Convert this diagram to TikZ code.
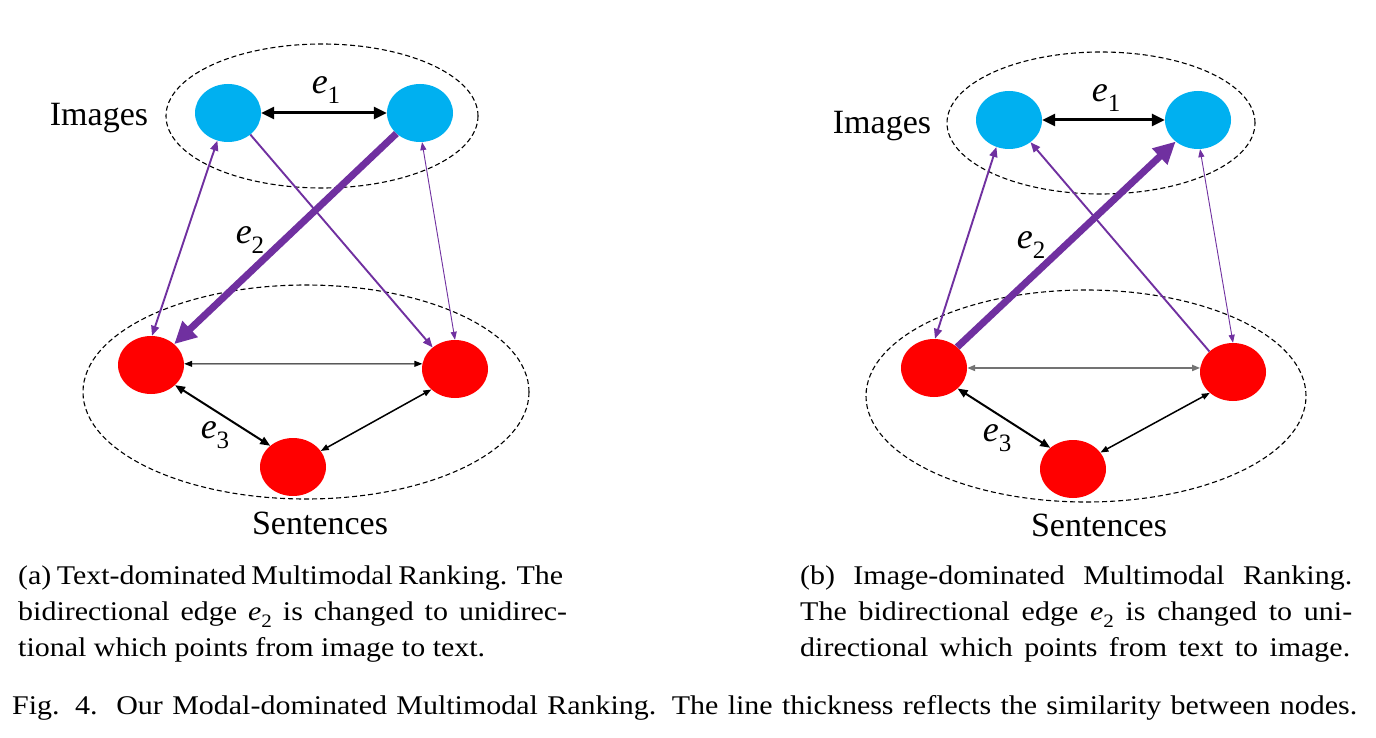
\documentclass[tikz,border=0pt]{standalone}
\usepackage{fontspec}
\setmainfont{Liberation Serif}
\newfontfamily\capfont[FakeStretch=1.11]{Liberation Serif}
\usetikzlibrary{arrows.meta,shapes.geometric}
\definecolor{nblue}{HTML}{00B0F0}
\definecolor{nred}{HTML}{FF0000}
\definecolor{npurple}{HTML}{7030A0}
\newcommand\esub[2]{\textit{e}\raisebox{-0.28em}{\fontsize{#2}{#2}\selectfont #1}}
\tikzset{
  bnode/.style={ellipse,fill=nblue,minimum width=66pt,minimum height=58pt,inner sep=0pt},
  rnode/.style={ellipse,fill=nred,minimum width=66pt,minimum height=58pt,inner sep=0pt},
  group/.style={ellipse,draw=black,line width=1.1pt,dash pattern=on 5pt off 3pt,inner sep=0pt},
  lbl/.style={font=\fontsize{34}{40}\selectfont,inner sep=0pt},
  elbl/.style={font=\fontsize{36}{40}\selectfont,inner sep=0pt},
  captxt/.style={font=\capfont\fontsize{27}{32}\selectfont,inner sep=0pt,anchor=base west},
  tipS/.tip={Triangle[length=8pt,width=6pt]},
  tipM/.tip={Triangle[length=10pt,width=8pt]},
  tipL/.tip={Triangle[length=13pt,width=12pt]},
  tipXL/.tip={Triangle[length=22pt,width=21pt]},
  pthin/.style={draw=npurple,line width=0.9pt,tipS-tipS},
  pmed/.style={draw=npurple,line width=1.9pt},
  pthick/.style={draw=npurple,line width=7pt,-tipXL},
  bthin/.style={draw=black,line width=1pt,tipS-tipS},
  bmed/.style={draw=black,line width=2pt,tipM-tipM},
  bmid/.style={draw=black,line width=1.5pt,tipS-tipS},
  bthick/.style={draw=black,line width=3pt,tipL-tipL},
}
\begin{document}
\begin{tikzpicture}[x=1pt,y=-1pt]
\useasboundingbox[fill=white] (0,0) rectangle (1376,738);

% ---------------- (a) ----------------
\node[group,minimum width=312pt,minimum height=144pt] (ga) at (322,116) {};
\node[group,minimum width=446pt,minimum height=214pt] (gsa) at (306,392) {};
\node[bnode] (ab1) at (228,113) {};
\node[bnode] (ab2) at (420,113) {};
\node[rnode] (ar1) at (151,365) {};
\node[rnode] (ar2) at (455,369) {};
\node[rnode] (ar3) at (293,467) {};
\node[lbl] (aimg) at (99,118) {Images};
\node[lbl] (asen) at (320,523) {Sentences};
\node[elbl] (ae1) at (326,90) {\esub{1}{25}};
\node[elbl] (ae2) at (250,240) {\esub{2}{25}};
\node[elbl] (ae3) at (215,435) {\esub{3}{25}};

\draw[bthick] (ab1.east) -- (ab2.west);
\draw[pmed,tipM-tipM] (ab1.-111) -- (ar1.88);
\draw[pmed,-tipM] (ab1.-44) -- (ar2.136);
\draw[pthick] (ab2.-139) -- (ar1.42);
\draw[pthin] (ab2.-86) -- (ar2.90);
\draw[bthin] (ar1.2) -- (ar2.171);
\draw[bmed] (ar1.-40) -- (ar3.137);
\draw[bmid] (ar3.30) -- (ar2.-139);

% ---------------- (b) ----------------
\node[group,minimum width=308pt,minimum height=142pt] (gb) at (1101,123) {};
\node[group,minimum width=440pt,minimum height=212pt] (gsb) at (1086,396) {};
\node[bnode] (bb1) at (1009,120) {};
\node[bnode] (bb2) at (1198,120) {};
\node[rnode] (br1) at (934,368) {};
\node[rnode] (br2) at (1233,372) {};
\node[rnode] (br3) at (1073,469) {};
\node[lbl] (bimg) at (882,126) {Images};
\node[lbl] (bsen) at (1099,525) {Sentences};
\node[elbl] (be1) at (1106,98) {\esub{1}{25}};
\node[elbl] (be2) at (1031,245) {\esub{2}{25}};
\node[elbl] (be3) at (997,438) {\esub{3}{25}};

\draw[bthick] (bb1.east) -- (bb2.west);
\draw[pmed,tipM-tipM] (bb1.-115) -- (br1.88);
\draw[pmed,-tipM] (br2.139) -- (bb1.-46);
\draw[pthick] (br1.42) -- (bb2.-136);
\draw[pthin] (bb2.-86) -- (br2.90);
\draw[draw=black!55,line width=1.8pt,tipS-tipS] (br1.0) -- (br2.173);
\draw[bmed] (br1.-41) -- (br3.137);
\draw[bmid] (br3.31) -- (br2.-138);

% ---------------- captions ----------------
\node[captxt] (ca1) at (18,584) {\makebox[545pt][s]{(a) Text-dominated Multimodal Ranking. The}};
\node[captxt] (ca2) at (18,620) {\makebox[549pt][s]{bidirectional edge \esub{2}{19} is changed to unidirec-}};
\node[captxt] (ca3) at (18,656) {tional which points from image to text.};
\node[captxt] (cb1) at (800,584) {\makebox[552pt][s]{(b) Image-dominated Multimodal Ranking.}};
\node[captxt] (cb2) at (800,620) {\makebox[552pt][s]{The bidirectional edge \esub{2}{19} is changed to uni-}};
\node[captxt] (cb3) at (800,656) {\makebox[550pt][s]{directional which points from text to image.}};
\node[captxt] (cf) at (12,714) {\makebox[1345pt][s]{Fig. 4.\ \ Our Modal-dominated Multimodal Ranking. The line thickness reflects the similarity between nodes.}};
\end{tikzpicture}
\end{document}
